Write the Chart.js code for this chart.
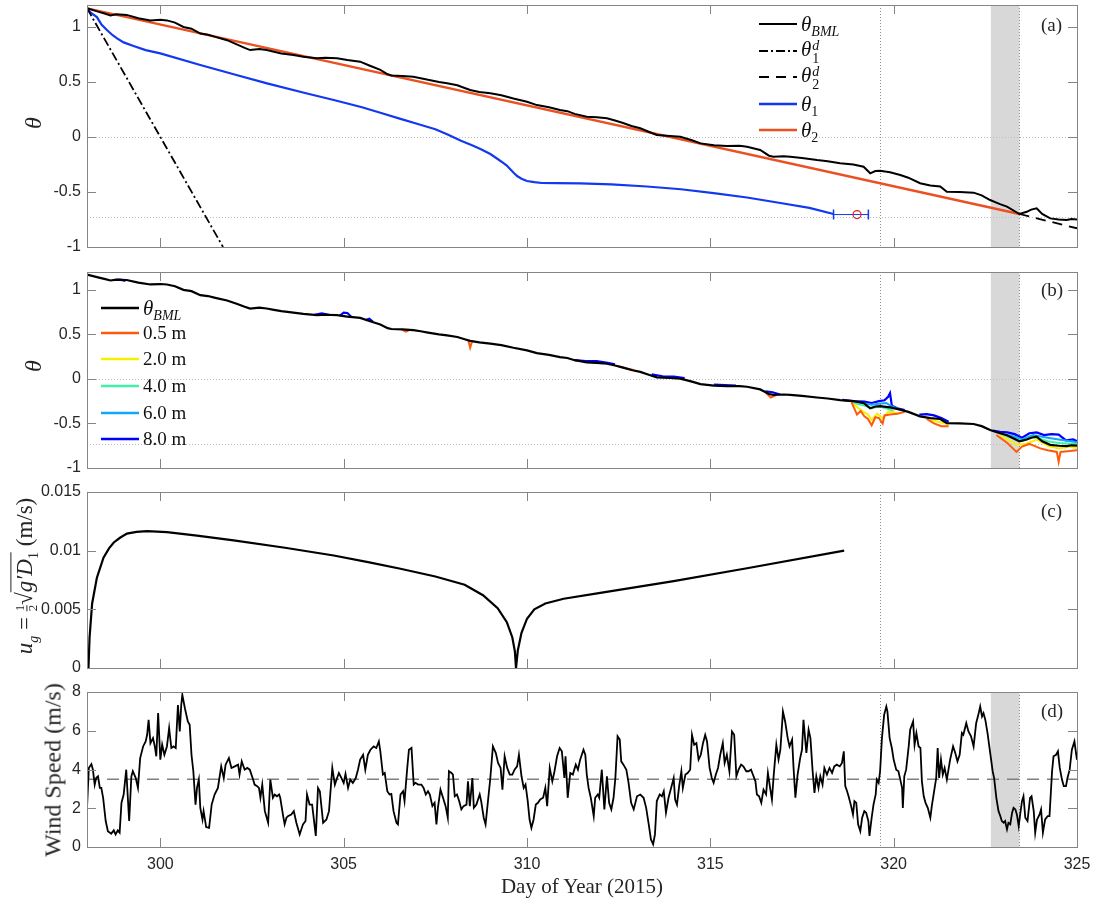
<!DOCTYPE html>
<html>
<head>
<meta charset="utf-8">
<script src="https://cdn.jsdelivr.net/npm/chart.js@4.4.1/dist/chart.umd.min.js"></script>
<style>
  html, body { margin: 0; padding: 0; background: #fff; }
  #wrap { position: relative; width: 1094px; height: 902px; overflow: hidden; }
  canvas { position: absolute; left: 0; }
  .txt { position: absolute; font-family: "Liberation Serif", "DejaVu Serif", serif; color: #262626; white-space: nowrap; z-index: 5; }
  .rot { transform: translate(-50%, -50%) rotate(-90deg); }
  .lg { position: absolute; display: flex; align-items: center; height: 26px; z-index: 5;
        font-family: "Liberation Serif", serif; font-size: 21px; color: #111; white-space: nowrap; }
  .lg svg { margin-right: 4px; }
  sub, sup { font-size: 14px; line-height: 0; }
  .ss { display: inline-flex; flex-direction: column; vertical-align: middle; font-size: 14px; line-height: 13px; margin-left: 1px; }
  .fr { display: inline-flex; flex-direction: column; vertical-align: middle; font-size: 13px; line-height: 12px; text-align: center; }
  .fr span:first-child { border-bottom: 1px solid #262626; }
  .ov { border-top: 1px solid #262626; padding-top: 1px; }
</style>
</head>
<body>
<div id="wrap">
  <canvas id="pa" width="1110" height="282" style="top:-15px"></canvas>
  <canvas id="pb" width="1110" height="236" style="top:252px"></canvas>
  <canvas id="pc" width="1110" height="216" style="top:472px"></canvas>
  <canvas id="pd" width="1110" height="230" style="top:672px"></canvas>

  <!-- axis titles -->
  <div class="txt rot" style="left:33px;top:123px;font-size:24px"><i>θ</i></div>
  <div class="txt rot" style="left:33px;top:366px;font-size:24px"><i>θ</i></div>
  <div class="txt rot" style="left:26px;top:576px;font-size:23px"><i>u</i><sub><i>g</i></sub> = <span class="fr"><span>1</span><span>2</span></span>√<span class="ov"><i>g′D</i><sub>1</sub></span> (m/s)</div>
  <div class="txt rot" style="left:53px;top:770px;font-size:24px">Wind Speed (m/s)</div>
  <div class="txt" style="left:582px;top:886px;font-size:21px;transform:translate(-50%,-50%)">Day of Year (2015)</div>

  <!-- panel labels -->
  <div class="txt" style="left:1041px;top:14px;font-size:19px">(a)</div>
  <div class="txt" style="left:1041px;top:279px;font-size:19px">(b)</div>
  <div class="txt" style="left:1041px;top:500px;font-size:19px">(c)</div>
  <div class="txt" style="left:1041px;top:700px;font-size:19px">(d)</div>

  <!-- legend (a) -->
  <div class="lg" style="left:759px;top:11px"><svg width="38" height="4"><line x1="0" y1="2" x2="38" y2="2" stroke="#000" stroke-width="2"/></svg><span><i>θ</i><sub><i>BML</i></sub></span></div>
  <div class="lg" style="left:759px;top:38px"><svg width="38" height="4"><line x1="0" y1="2" x2="38" y2="2" stroke="#000" stroke-width="2" stroke-dasharray="9,3,2,3"/></svg><span><i>θ</i><span class="ss"><span><i>d</i></span><span>1</span></span></span></div>
  <div class="lg" style="left:759px;top:64px"><svg width="38" height="4"><line x1="0" y1="2" x2="38" y2="2" stroke="#000" stroke-width="2" stroke-dasharray="10,7"/></svg><span><i>θ</i><span class="ss"><span><i>d</i></span><span>2</span></span></span></div>
  <div class="lg" style="left:759px;top:91px"><svg width="38" height="4"><line x1="0" y1="2" x2="38" y2="2" stroke="#1238f0" stroke-width="2.5"/></svg><span><i>θ</i><sub>1</sub></span></div>
  <div class="lg" style="left:759px;top:117px"><svg width="38" height="4"><line x1="0" y1="2" x2="38" y2="2" stroke="#ea5020" stroke-width="2.5"/></svg><span><i>θ</i><sub>2</sub></span></div>

  <!-- legend (b) -->
  <div class="lg" style="left:101px;top:295px"><svg width="38" height="4"><line x1="0" y1="2" x2="38" y2="2" stroke="#000" stroke-width="2.5"/></svg><span><i>θ</i><sub><i>BML</i></sub></span></div>
  <div class="lg" style="left:101px;top:320px;font-size:19px"><svg width="38" height="4"><line x1="0" y1="2" x2="38" y2="2" stroke="#ff5a0a" stroke-width="2.5"/></svg>0.5 m</div>
  <div class="lg" style="left:101px;top:346px;font-size:19px"><svg width="38" height="4"><line x1="0" y1="2" x2="38" y2="2" stroke="#f5f000" stroke-width="2.5"/></svg>2.0 m</div>
  <div class="lg" style="left:101px;top:373px;font-size:19px"><svg width="38" height="4"><line x1="0" y1="2" x2="38" y2="2" stroke="#40f0a8" stroke-width="2.5"/></svg>4.0 m</div>
  <div class="lg" style="left:101px;top:400px;font-size:19px"><svg width="38" height="4"><line x1="0" y1="2" x2="38" y2="2" stroke="#10a8f8" stroke-width="2.5"/></svg>6.0 m</div>
  <div class="lg" style="left:101px;top:426px;font-size:19px"><svg width="38" height="4"><line x1="0" y1="2" x2="38" y2="2" stroke="#0000ff" stroke-width="2.5"/></svg>8.0 m</div>
</div>

<script>
// ticks and reference values
const xTicks = [300, 305, 310, 315, 320, 325];
const thetaTicks = [-1, -0.5, 0, 0.5, 1];
const ugTicks = [0, 0.005, 0.01, 0.015];
const windTicks = [0, 2, 4, 6, 8];
const eventDays = [319.62, 323.43];
const shadeDays = [322.65, 323.43];
const thetaRefs = [0, -0.73];
const windMean = 3.5;

// panel (a): [day, theta]
const thetaBML = [[298.0,1.17],[298.3,1.14],[298.5,1.12],[298.64,1.105],[298.8,1.115],[299.08,1.11],[299.4,1.08],
  [299.73,1.06],[300.0,1.065],[300.18,1.06],[300.4,1.04],[300.63,1.0],[300.85,0.985],[301.09,0.94],[301.3,0.93],
  [301.5,0.91],[301.82,0.88],[302.1,0.84],[302.3,0.81],[302.45,0.79],[302.7,0.8],[302.9,0.79],[303.1,0.775],
  [303.3,0.76],[303.63,0.745],[303.9,0.73],[304.27,0.715],[304.5,0.72],[304.82,0.715],[305.1,0.7],[305.45,0.685],
  [305.7,0.65],[306.0,0.61],[306.2,0.57],[306.3,0.56],[306.6,0.555],[306.9,0.548],[307.1,0.535],[307.3,0.52],
  [307.6,0.5],[307.82,0.488],[308.1,0.47],[308.3,0.445],[308.45,0.427],[308.7,0.41],[309.0,0.397],[309.3,0.38],
  [309.63,0.35],[310.0,0.32],[310.27,0.29],[310.6,0.27],[310.9,0.245],[311.1,0.235],[311.3,0.21],[311.63,0.185],
  [311.9,0.18],[312.18,0.17],[312.4,0.15],[312.6,0.13],[312.85,0.1],[313.09,0.079],[313.3,0.05],[313.54,0.018],
  [313.9,0.01],[314.18,0.003],[314.5,-0.03],[314.73,-0.058],[315.1,-0.075],[315.45,-0.082],[315.8,-0.08],
  [316.0,-0.088],[316.36,-0.118],[316.6,-0.17],[316.72,-0.179],[317.0,-0.175],[317.18,-0.179],[317.5,-0.19],
  [317.91,-0.209],[318.2,-0.22],[318.54,-0.239],[318.9,-0.25],[319.18,-0.27],[319.36,-0.33],[319.5,-0.31],
  [319.63,-0.306],[319.9,-0.32],[320.18,-0.345],[320.4,-0.37],[320.72,-0.42],[321.0,-0.44],[321.27,-0.45],
  [321.45,-0.497],[321.8,-0.5],[322.18,-0.506],[322.4,-0.53],[322.63,-0.573],[322.9,-0.61],[323.09,-0.633],
  [323.43,-0.7],[323.63,-0.68],[323.75,-0.66],[323.9,-0.648],[324.05,-0.7],[324.27,-0.74],[324.5,-0.75],
  [324.72,-0.755],[324.85,-0.745],[325.0,-0.75]];
const theta1d = [[298.0,1.17],[301.71,-1.0]];
const theta2d = [[323.43,-0.70],[325.0,-0.83]];
const theta1 = [[298.0,1.17],[298.1,1.13],[298.27,1.09],[298.4,1.02],[298.55,0.97],[298.7,0.925],[298.82,0.897],
  [299.0,0.86],[299.27,0.827],[299.6,0.79],[300.0,0.76],[301.09,0.655],[302.0,0.57],[302.91,0.488],[304.0,0.395],
  [304.73,0.336],[305.5,0.27],[306.0,0.221],[306.55,0.165],[307.0,0.12],[307.5,0.07],[307.82,0.025],[308.2,-0.035],
  [308.5,-0.075],[308.73,-0.11],[309.0,-0.155],[309.2,-0.2],[309.35,-0.235],[309.45,-0.26],[309.55,-0.295],
  [309.65,-0.33],[309.73,-0.355],[309.85,-0.38],[310.0,-0.4],[310.2,-0.41],[310.4,-0.418],[310.8,-0.42],
  [311.45,-0.422],[312.3,-0.43],[313.27,-0.45],[314.2,-0.475],[315.09,-0.51],[316.0,-0.55],[316.91,-0.6],
  [317.7,-0.645],[318.36,-0.70]];
const theta2 = [[298.0,1.17],[323.43,-0.70]];
const errBar = [318.36, 319.31];
const errMid = 319.0;
const errY = -0.705;

// panel (b): temperature at depth, only where it departs from theta_BML
const t05 = [[306.6,0.55],[306.7,0.53],[306.8,0.55],null,[308.4,0.43],[308.45,0.35],[308.5,0.42],null,
  [312.5,0.14],[312.7,0.12],[312.9,0.10],null,[316.5,-0.15],[316.65,-0.21],[316.8,-0.18],null,
  [318.85,-0.26],[319.0,-0.40],[319.1,-0.36],[319.2,-0.42],[319.3,-0.45],[319.4,-0.52],[319.5,-0.43],[319.6,-0.44],
  [319.7,-0.50],[319.75,-0.41],[319.9,-0.40],[320.1,-0.39],[320.3,-0.37],null,
  [320.9,-0.45],[321.1,-0.50],[321.3,-0.53],[321.5,-0.53],null,
  [322.8,-0.63],[323.1,-0.72],[323.25,-0.78],[323.35,-0.82],[323.5,-0.76],[323.7,-0.73],[324.0,-0.78],[324.2,-0.80],
  [324.45,-0.82],[324.5,-0.93],[324.55,-0.82],[324.8,-0.81],[325.0,-0.80]];
const t20 = [[318.9,-0.28],[319.1,-0.35],[319.3,-0.40],[319.4,-0.46],[319.55,-0.39],[319.7,-0.44],[319.85,-0.37],[320.1,-0.38],null,
  [321.0,-0.46],[321.3,-0.49],[321.5,-0.51],null,
  [322.9,-0.63],[323.2,-0.70],[323.35,-0.74],[323.6,-0.73],[323.9,-0.68],[324.2,-0.75],[324.5,-0.78],[324.8,-0.76],[325.0,-0.78]];
const t40 = [[318.9,-0.27],[319.2,-0.30],[319.4,-0.33],[319.6,-0.31],[319.8,-0.33],[320.0,-0.36],null,
  [323.0,-0.63],[323.3,-0.67],[323.5,-0.70],[323.8,-0.65],[324.2,-0.70],[324.5,-0.72],[325.0,-0.73]];
const t60 = [[318.9,-0.26],[319.2,-0.275],[319.4,-0.29],[319.6,-0.28],[319.8,-0.27],[319.95,-0.31],[320.2,-0.35],null,
  [323.0,-0.62],[323.3,-0.65],[323.5,-0.68],[323.8,-0.63],[324.2,-0.66],[324.5,-0.68],[325.0,-0.71]];
const t80 = [[298.75,1.11],[298.9,1.115],[299.05,1.10],null,[304.2,0.72],[304.4,0.735],[304.6,0.72],null,
  [304.9,0.71],[305.0,0.745],[305.1,0.74],[305.2,0.70],null,[305.6,0.66],[305.7,0.675],[305.8,0.64],null,
  [311.3,0.21],[311.6,0.2],[311.9,0.2],[312.2,0.18],[312.4,0.165],null,
  [313.4,0.05],[313.7,0.03],[314.0,0.025],[314.3,0.01],null,[315.1,-0.065],[315.4,-0.07],[315.7,-0.075],null,
  [316.5,-0.14],[316.7,-0.15],[316.9,-0.175],null,
  [318.6,-0.235],[318.9,-0.25],[319.2,-0.255],[319.4,-0.27],[319.6,-0.25],[319.75,-0.24],[319.85,-0.2],[319.9,-0.16],
  [319.95,-0.3],[320.1,-0.33],[320.3,-0.35],null,
  [320.7,-0.40],[320.9,-0.395],[321.1,-0.41],[321.3,-0.44],[321.5,-0.48],null,
  [322.7,-0.58],[322.9,-0.595],[323.1,-0.60],[323.3,-0.62],[323.5,-0.66],[323.7,-0.61],[323.9,-0.60],[324.1,-0.63],
  [324.3,-0.62],[324.5,-0.625],[324.7,-0.69],[324.9,-0.68],[325.0,-0.70]];

// panel (c): u_g (m/s)
const ug = [[298.04,0],[298.07,0.0026],[298.14,0.0055],[298.27,0.0077],[298.45,0.0094],[298.6,0.0102],[298.73,0.0107],
  [298.9,0.0111],[299.09,0.01145],[299.35,0.0116],[299.64,0.01167],[300.18,0.01158],[301.0,0.01128],[302.0,0.01087],
  [303.4,0.01025],[304.73,0.00959],[305.7,0.009],[306.55,0.00846],[307.5,0.0078],[308.3,0.0071],[308.8,0.0062],
  [309.2,0.0051],[309.45,0.0039],[309.6,0.0026],[309.67,0.0014],[309.7,0.0],[309.75,0.0015],[309.85,0.003],
  [310.0,0.0042],[310.2,0.005],[310.5,0.0055],[311.0,0.0059],[312.0,0.0064],[314.0,0.0074],[316.0,0.0085],
  [318.65,0.0100]];

// panel (d): wind speed (m/s)
const wind = [[298.0,2.02],[298.05,4.08],[298.12,4.28],[298.16,4.0],[298.21,3.22],[298.25,3.56],[298.3,3.65],
  [298.35,3.05],[298.39,3.05],[298.44,2.54],[298.51,1.34],[298.57,0.82],[298.66,0.69],[298.73,0.86],[298.78,0.65],
  [298.84,0.86],[298.89,0.74],[298.94,2.28],[299.0,2.71],[299.07,3.99],[299.15,1.34],[299.21,3.65],[299.25,3.91],
  [299.33,3.56],[299.39,3.05],[299.45,4.59],[299.53,5.19],[299.6,5.45],[299.64,5.79],[299.68,6.56],[299.73,5.36],
  [299.8,5.62],[299.85,5.19],[299.89,4.68],[299.94,6.91],[300.0,4.51],[300.05,5.28],[300.11,4.76],[300.18,5.19],
  [300.24,6.14],[300.3,5.11],[300.36,5.19],[300.42,5.11],[300.48,7.33],[300.53,5.96],[300.57,7.33],[300.6,7.85],
  [300.67,7.16],[300.75,6.48],[300.8,6.31],[300.85,4.76],[300.9,3.91],[300.96,2.19],[301.0,3.05],[301.05,3.48],
  [301.09,2.02],[301.15,1.42],[301.18,1.85],[301.25,1.03],[301.33,0.99],[301.4,2.19],[301.48,2.71],[301.57,3.05],
  [301.66,4.16],[301.73,3.56],[301.78,4.25],[301.87,4.59],[301.94,4.08],[302.03,4.16],[302.12,4.25],[302.16,3.74],
  [302.22,4.42],[302.3,3.99],[302.37,4.08],[302.44,3.99],[302.53,3.48],[302.57,3.22],[302.64,3.14],[302.69,3.05],
  [302.73,2.54],[302.78,3.22],[302.85,1.85],[302.89,1.59],[302.94,1.25],[303.0,3.48],[303.07,2.54],[303.12,2.71],
  [303.18,2.62],[303.24,2.71],[303.27,2.54],[303.35,1.59],[303.39,1.17],[303.44,1.51],[303.48,1.59],[303.57,1.68],
  [303.64,1.85],[303.71,1.25],[303.8,0.65],[303.89,1.17],[303.96,1.34],[304.0,2.71],[304.07,2.19],[304.14,2.19],
  [304.24,0.57],[304.3,3.05],[304.35,2.88],[304.44,1.25],[304.53,1.42],[304.6,1.85],[304.69,4.08],[304.76,3.22],
  [304.82,3.56],[304.87,3.82],[304.94,3.56],[305.0,3.31],[305.05,3.77],[305.12,3.05],[305.18,3.48],[305.25,3.31],
  [305.33,3.56],[305.39,3.99],[305.45,4.51],[305.53,4.76],[305.59,3.99],[305.66,4.76],[305.73,5.02],[305.82,5.19],
  [305.89,5.11],[305.96,5.45],[306.0,4.94],[306.07,3.74],[306.12,3.82],[306.19,2.88],[306.25,2.71],[306.3,2.74],
  [306.36,1.85],[306.44,1.25],[306.48,1.17],[306.55,2.71],[306.62,2.88],[306.66,2.37],[306.73,3.99],[306.78,5.02],
  [306.85,5.11],[306.91,3.22],[306.96,3.31],[307.03,3.22],[307.12,3.22],[307.18,3.05],[307.24,2.71],[307.3,2.88],
  [307.35,2.71],[307.42,2.11],[307.48,2.28],[307.53,1.17],[307.57,2.02],[307.64,2.96],[307.71,2.54],[307.78,2.11],
  [307.84,1.51],[307.87,3.91],[307.94,3.82],[307.98,3.74],[308.03,2.62],[308.09,2.71],[308.15,2.37],[308.21,1.94],
  [308.27,2.11],[308.35,2.19],[308.39,3.39],[308.44,2.11],[308.51,3.56],[308.55,2.02],[308.62,2.19],[308.71,2.71],
  [308.75,2.37],[308.82,1.51],[308.87,1.17],[308.94,2.45],[309.0,3.56],[309.07,5.19],[309.15,4.85],[309.21,4.34],
  [309.28,4.08],[309.33,2.96],[309.39,4.68],[309.46,4.08],[309.53,3.74],[309.6,3.74],[309.66,3.99],[309.73,4.16],
  [309.78,4.76],[309.85,3.65],[309.91,3.05],[309.96,3.22],[310.02,2.37],[310.07,1.42],[310.12,0.99],[310.18,1.42],
  [310.24,2.19],[310.3,2.28],[310.36,2.45],[310.44,2.54],[310.5,3.05],[310.55,2.11],[310.62,4.08],[310.69,3.39],
  [310.75,3.91],[310.82,4.68],[310.89,5.11],[310.95,4.94],[311.02,3.56],[311.05,4.68],[311.11,2.54],[311.18,3.82],
  [311.25,3.74],[311.33,4.25],[311.39,3.99],[311.45,4.51],[311.54,5.02],[311.59,4.76],[311.63,3.74],[311.68,3.05],
  [311.74,2.54],[311.82,1.59],[311.86,2.54],[311.93,2.71],[311.97,2.54],[312.04,3.99],[312.11,1.94],[312.18,3.65],
  [312.24,2.28],[312.3,1.94],[312.36,2.54],[312.41,3.56],[312.47,5.71],[312.53,5.54],[312.57,4.42],[312.63,4.25],
  [312.71,3.99],[312.77,3.31],[312.84,2.28],[312.91,1.94],[313.0,2.62],[313.09,2.71],[313.18,2.54],[313.25,2.02],
  [313.32,1.17],[313.38,0.39],[313.44,0.14],[313.49,0.65],[313.54,2.37],[313.62,2.71],[313.68,2.62],[313.73,2.88],
  [313.79,1.77],[313.86,2.54],[313.93,3.05],[314.0,3.56],[314.04,2.45],[314.09,2.19],[314.15,3.14],[314.21,3.91],
  [314.25,3.05],[314.32,3.74],[314.38,3.82],[314.45,3.99],[314.5,5.79],[314.56,5.28],[314.62,5.36],[314.68,4.51],
  [314.74,4.76],[314.8,5.36],[314.86,5.79],[314.91,5.45],[314.98,4.08],[315.04,3.56],[315.09,3.31],[315.15,3.74],
  [315.21,4.08],[315.27,4.76],[315.34,5.36],[315.39,4.34],[315.45,4.76],[315.52,3.91],[315.59,5.96],[315.65,5.79],
  [315.71,3.65],[315.77,3.99],[315.84,4.25],[315.9,4.16],[315.98,3.91],[316.04,3.91],[316.11,3.99],[316.16,3.74],
  [316.23,3.39],[316.27,2.71],[316.33,2.62],[316.39,2.28],[316.45,2.96],[316.52,2.71],[316.57,3.82],[316.63,3.05],
  [316.68,2.45],[316.73,3.74],[316.8,5.28],[316.86,4.51],[316.91,5.02],[316.98,6.99],[317.04,6.48],[317.11,5.62],
  [317.16,5.19],[317.23,5.54],[317.27,4.08],[317.32,2.54],[317.38,3.74],[317.45,4.59],[317.5,5.02],[317.54,6.56],
  [317.62,4.85],[317.68,6.05],[317.73,5.62],[317.79,3.91],[317.84,2.79],[317.89,3.65],[317.95,3.05],[318.0,3.65],
  [318.06,3.22],[318.11,4.08],[318.18,3.74],[318.25,4.08],[318.32,3.82],[318.38,4.16],[318.45,4.25],[318.53,4.16],
  [318.59,4.34],[318.64,4.94],[318.68,3.14],[318.73,2.88],[318.77,2.62],[318.84,2.11],[318.89,1.68],[318.93,2.37],
  [318.98,2.28],[319.03,1.17],[319.09,0.82],[319.14,1.51],[319.2,1.85],[319.25,1.77],[319.31,1.34],[319.34,0.57],
  [319.4,1.51],[319.45,2.19],[319.51,2.71],[319.54,3.48],[319.59,3.31],[319.63,3.91],[319.68,5.62],[319.74,6.82],
  [319.8,7.25],[319.83,6.99],[319.89,5.62],[319.95,5.11],[320.0,4.51],[320.07,3.99],[320.13,3.91],[320.18,3.48],
  [320.23,3.05],[320.25,2.02],[320.29,3.65],[320.34,3.99],[320.41,5.19],[320.45,6.05],[320.53,6.48],[320.57,5.28],
  [320.62,5.88],[320.68,5.19],[320.73,5.11],[320.77,3.39],[320.82,2.62],[320.87,2.28],[320.93,2.02],[321.0,1.51],
  [321.04,2.11],[321.11,2.96],[321.16,3.56],[321.2,5.11],[321.24,3.56],[321.29,4.51],[321.34,3.74],[321.39,4.08],
  [321.45,3.48],[321.54,4.51],[321.62,5.19],[321.68,4.85],[321.74,4.42],[321.8,4.76],[321.86,5.88],[321.9,5.79],
  [321.98,6.39],[322.04,5.96],[322.11,5.71],[322.18,5.19],[322.25,6.39],[322.32,6.91],[322.36,7.25],[322.41,6.74],
  [322.45,6.91],[322.5,6.56],[322.56,5.88],[322.64,4.76],[322.7,3.91],[322.74,3.56],[322.8,2.54],[322.86,1.85],
  [322.91,1.59],[322.95,1.34],[323.0,1.25],[323.04,1.34],[323.09,0.91],[323.13,1.25],[323.18,1.17],[323.23,1.77],
  [323.27,2.02],[323.32,1.94],[323.36,1.68],[323.41,1.08],[323.45,1.68],[323.5,2.37],[323.54,2.62],[323.59,1.51],
  [323.65,1.34],[323.72,2.54],[323.76,2.62],[323.82,1.85],[323.86,0.74],[323.91,1.42],[323.98,1.68],[324.02,1.94],
  [324.07,0.74],[324.13,1.42],[324.2,1.59],[324.25,1.59],[324.32,3.91],[324.36,4.68],[324.43,4.76],[324.48,4.94],
  [324.53,4.08],[324.59,3.48],[324.64,3.14],[324.7,3.14],[324.74,3.56],[324.8,3.99],[324.86,5.02],[324.93,5.45],
  [324.98,4.76],[325.0,4.5]];

// [day, value] pairs -> chart points, null makes a gap
function pts(arr) {
  return arr.map((p, i) => p ? {x: p[0], y: p[1]} : {x: arr[i - 1][0], y: null});
}

function line(data, color, width, extra) {
  return Object.assign({
    data: pts(data), borderColor: color, borderWidth: width,
    pointRadius: 0, tension: 0, fill: false
  }, extra || {});
}

const framePlugin = {
  id: 'frame',
  beforeDatasetsDraw(chart, args, opts) {
    const ctx = chart.ctx, a = chart.chartArea;
    const xs = chart.scales.x, ys = chart.scales.y;
    ctx.save();
    if (opts.shade) {
      const x0 = xs.getPixelForValue(shadeDays[0]), x1 = xs.getPixelForValue(shadeDays[1]);
      ctx.fillStyle = '#d8d8d8';
      ctx.fillRect(x0, a.top, x1 - x0, a.bottom - a.top);
    }
    ctx.lineWidth = 1;
    ctx.setLineDash([1, 2]);
    ctx.strokeStyle = '#bdbdbd';
    (opts.hLines || []).forEach(v => {
      const y = Math.round(ys.getPixelForValue(v)) + 0.5;
      ctx.beginPath(); ctx.moveTo(a.left, y); ctx.lineTo(a.right, y); ctx.stroke();
    });
    ctx.strokeStyle = '#8c8c8c';
    (opts.vLines || []).forEach(v => {
      const x = Math.round(xs.getPixelForValue(v)) + 0.5;
      ctx.beginPath(); ctx.moveTo(x, a.top); ctx.lineTo(x, a.bottom); ctx.stroke();
    });
    ctx.restore();
  },
  afterDatasetsDraw(chart, args, opts) {
    const ctx = chart.ctx, a = chart.chartArea;
    const xs = chart.scales.x, ys = chart.scales.y;
    const tl = 9;
    ctx.save();
    ctx.strokeStyle = '#858585';
    ctx.lineWidth = 1;
    ctx.beginPath();
    xTicks.forEach(v => {
      const x = Math.round(xs.getPixelForValue(v)) + 0.5;
      ctx.moveTo(x, a.bottom); ctx.lineTo(x, a.bottom - tl);
      ctx.moveTo(x, a.top); ctx.lineTo(x, a.top + tl);
    });
    opts.yTicks.forEach(v => {
      const y = Math.round(ys.getPixelForValue(v)) + 0.5;
      ctx.moveTo(a.left, y); ctx.lineTo(a.left + tl, y);
      ctx.moveTo(a.right, y); ctx.lineTo(a.right - tl, y);
    });
    ctx.stroke();
    ctx.strokeRect(Math.round(a.left) + 0.5, Math.round(a.top) + 0.5,
                   Math.round(a.right - a.left), Math.round(a.bottom - a.top));
    ctx.restore();
  }
};

function makePanel(id, datasets, yMin, yMax, yTicks, frame, showX) {
  return new Chart(document.getElementById(id), {
    type: 'line',
    data: { datasets: datasets },
    plugins: [framePlugin],
    options: {
      responsive: false,
      animation: false,
      events: [],
      layout: { padding: { top: 20, right: 33, left: 0, bottom: showX ? 0 : 20 } },
      plugins: {
        legend: { display: false },
        tooltip: { enabled: false },
        frame: Object.assign({ yTicks: yTicks }, frame)
      },
      scales: {
        x: {
          type: 'linear', min: 298, max: 325,
          grid: { display: false, drawTicks: false },
          border: { display: false },
          afterBuildTicks: s => { s.ticks = xTicks.map(v => ({ value: v })); },
          afterFit: s => { s.height = showX ? 55 : 0; },
          ticks: {
            display: showX, padding: 8, color: '#262626',
            font: { family: 'Liberation Sans', size: 16 },
            callback: v => String(v)
          }
        },
        y: {
          type: 'linear', min: yMin, max: yMax,
          grid: { display: false, drawTicks: false },
          border: { display: false },
          afterBuildTicks: s => { s.ticks = yTicks.map(v => ({ value: v })); },
          afterFit: s => { s.width = 87; },
          ticks: {
            padding: 6, color: '#262626',
            font: { family: 'Liberation Sans', size: 16 },
            callback: v => String(v)
          }
        }
      }
    }
  });
}

const blue = '#1238f0', orange = '#ea5020';

makePanel('pa', [
  line(thetaBML, '#000', 2, { order: 0 }),
  line(theta1d, '#000', 1.8, { borderDash: [9, 3, 2, 3], order: 1 }),
  line(theta2d, '#000', 1.8, { borderDash: [10, 7], order: 1 }),
  line(theta1, blue, 2.2, { order: 2 }),
  line(theta2, orange, 2.4, { order: 1 }),
  { data: [{ x: errBar[0], y: errY }, { x: errBar[1], y: errY }], borderColor: blue, borderWidth: 1,
    pointStyle: 'line', pointRotation: 90, pointRadius: 5, pointBorderColor: blue, pointBorderWidth: 1.5, order: 2 },
  { data: [{ x: errMid, y: errY }], showLine: false, pointStyle: 'circle', pointRadius: 4,
    pointBorderColor: '#e0201a', pointBackgroundColor: 'rgba(0,0,0,0)', pointBorderWidth: 1.2, order: 1 }
], -1, 1.2, thetaTicks, { shade: true, hLines: thetaRefs, vLines: eventDays }, false);

makePanel('pb', [
  line(thetaBML, '#000', 2.2, { order: 0 }),
  line(t05, '#ff5a0a', 2, { order: 1 }),
  line(t20, '#f5f000', 2, { order: 2 }),
  line(t40, '#40f0a8', 2, { order: 3 }),
  line(t60, '#10a8f8', 2, { order: 4 }),
  line(t80, '#0000ff', 2.2, { order: 5 })
], -1, 1.2, thetaTicks, { shade: true, hLines: thetaRefs, vLines: eventDays }, false);

makePanel('pc', [
  line(ug, '#000', 2.2)
], 0, 0.015, ugTicks, { shade: false, hLines: [], vLines: [eventDays[0]] }, false);

makePanel('pd', [
  line(wind, '#000', 1.8, { order: 0 }),
  line([[298, windMean], [325, windMean]], '#808080', 1.5, { borderDash: [12, 8], order: 1 })
], 0, 8, windTicks, { shade: true, hLines: [], vLines: eventDays }, true);
</script>
</body>
</html>
